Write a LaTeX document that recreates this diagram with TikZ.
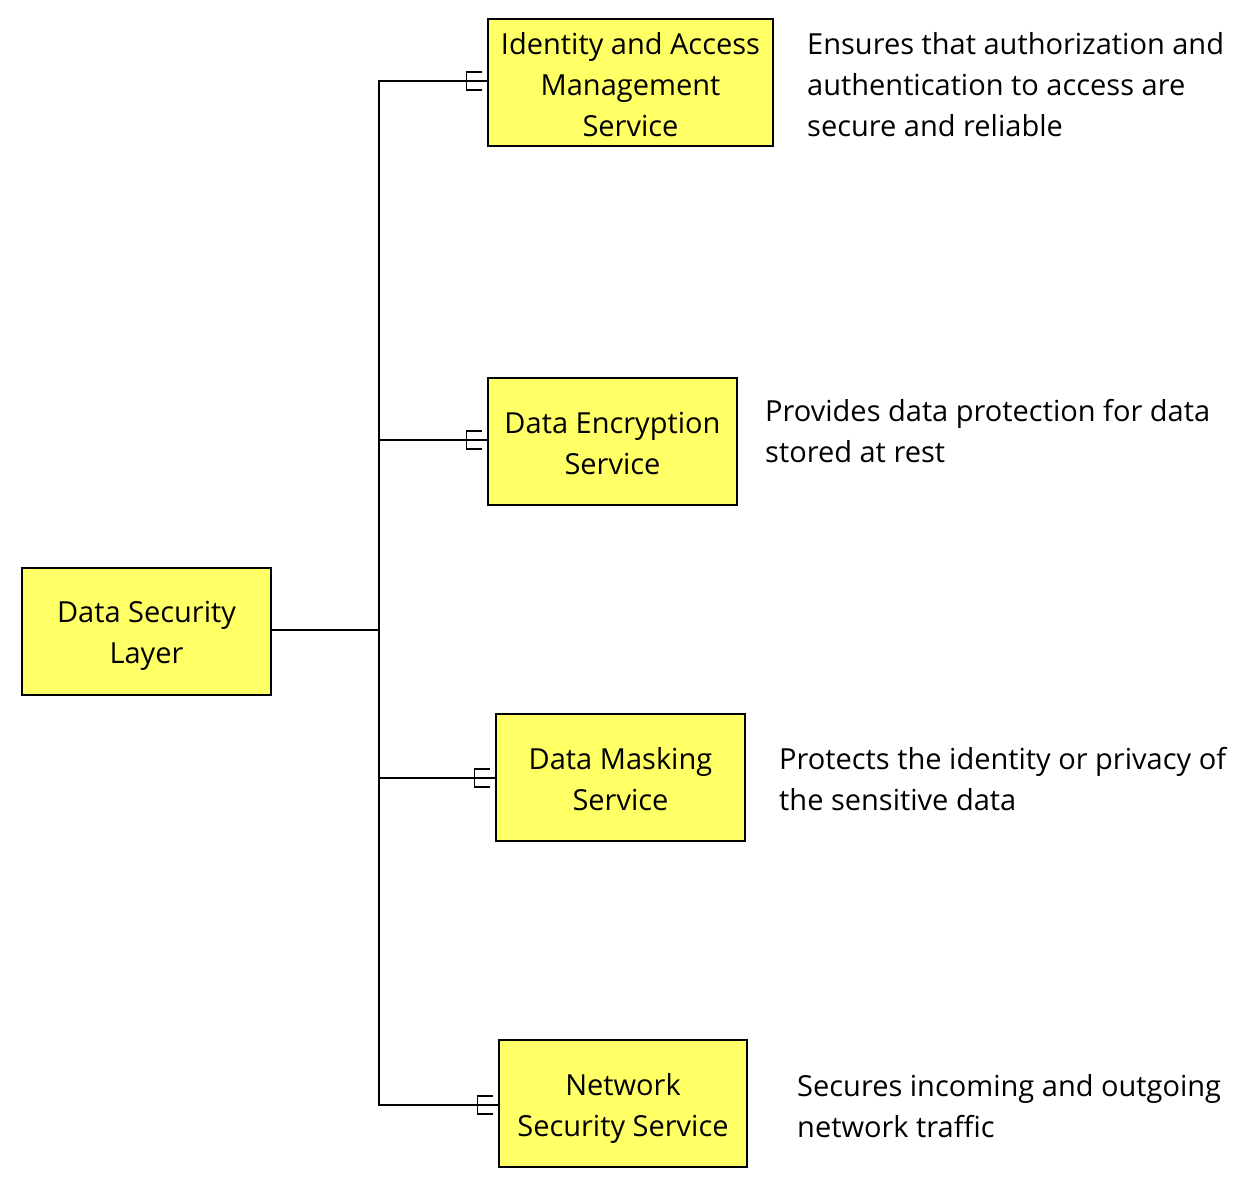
\documentclass[tikz,border=0pt]{standalone}
\usepackage{fontspec}
\setmainfont{Open Sans}
\definecolor{boxyellow}{HTML}{FFFF66}
\begin{document}
\begin{tikzpicture}[x=1pt,y=-1pt,
  box/.style={draw=black, line width=1.5pt, fill=boxyellow, minimum width=#1,
    minimum height=127pt, inner sep=0pt},
  boxtext/.style={align=center, inner sep=0pt, font=\fontsize{29}{41}\selectfont},
  desc/.style={anchor=base west, align=left, inner sep=0pt,
    font=\fontsize{29}{41}\selectfont},
  conn/.style={line width=1.5pt, line cap=rect}]
\useasboundingbox (0,0) rectangle (1251,1186);
% boxes
\node[box=249pt] (dsl) at (146.5,631.5) {};
\node[box=285pt] (iam) at (630.5,82.5) {};
\node[box=249pt] (enc) at (612.5,441.5) {};
\node[box=249pt] (mask) at (620.5,777.5) {};
\node[box=248pt] (net) at (623,1103.5) {};
\node[boxtext] (dslt) at ([yshift=-4pt]dsl.center) {Data Security\\Layer};
\node[boxtext] (iamt) at ([yshift=-2pt]iam.center) {Identity and Access\\Management\\Service};
\node[boxtext] (enct) at ([yshift=-2pt]enc.center) {Data Encryption\\Service};
\node[boxtext] (maskt) at ([yshift=-2pt]mask.center) {Data Masking\\Service};
\node[boxtext] (nett) at ([yshift=-5pt]net.center) {Network\\Security Service};
% descriptions
\node[desc] (d1) at (807,136) {Ensures that authorization and\\authentication to access are\\secure and reliable};
\node[desc] (d2) at (765,462) {Provides data protection for data\\stored at rest};
\node[desc] (d3) at (779,810) {Protects the identity or privacy of\\the sensitive data};
\node[desc] (d4) at (797,1137) {Secures incoming and outgoing\\network traffic};
% trunk
\coordinate (jt) at (379,630);
\coordinate (j1) at (379,81);
\coordinate (j2) at (379,440);
\coordinate (j3) at (379,778);
\coordinate (j4) at (379,1105);
\draw[conn] (dsl.east |- jt) -- (jt);
\draw[conn] (j1) -- (j4);
\foreach \j/\b in {j1/iam, j2/enc, j3/mask, j4/net}{
  \draw[conn] (\j) -- (\b.west |- \j);
  \draw[line width=1.5pt] ([xshift=-5pt,yshift=-9pt]\b.west |- \j) -- ([xshift=-21pt,yshift=-9pt]\b.west |- \j)
     -- ([xshift=-21pt,yshift=9pt]\b.west |- \j) -- ([xshift=-5pt,yshift=9pt]\b.west |- \j);
}
\end{tikzpicture}
\end{document}
